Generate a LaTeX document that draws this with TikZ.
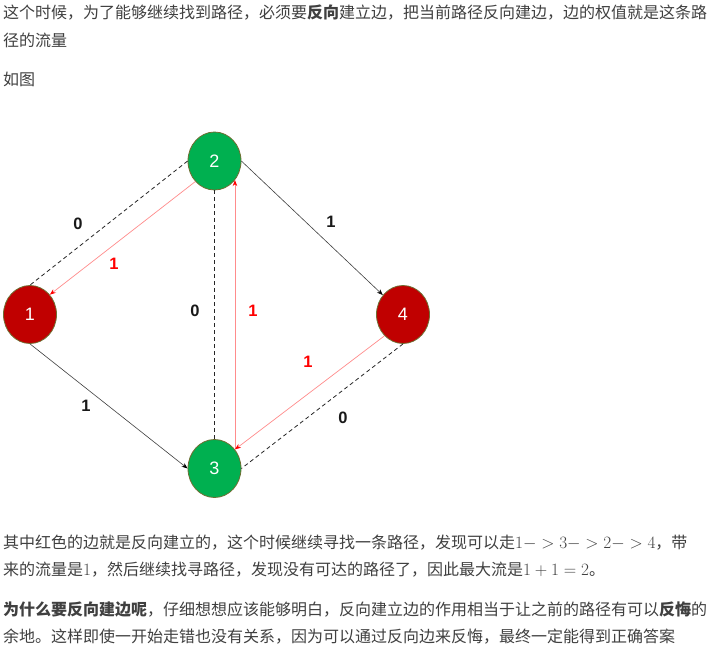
\documentclass[tikz,border=0pt]{standalone}
\usepackage[no-math]{fontspec}
\setmainfont{Noto Sans CJK SC}
\newfontfamily\labfont{Liberation Sans}
\usetikzlibrary{shapes.geometric,arrows.meta}
\definecolor{txt}{HTML}{404040}
\definecolor{gfill}{RGB}{0,176,80}
\definecolor{rfill}{RGB}{192,0,0}
\definecolor{nborder}{RGB}{110,110,50}
\definecolor{lightred}{RGB}{255,140,140}
\newcommand{\mfont}{\fontsize{18.6}{19}\selectfont}
\tikzset{
  vert/.style={ellipse, draw=nborder, line width=0.8pt, minimum width=53pt, minimum height=58pt, inner sep=0pt, font=\labfont\fontsize{18}{18}\selectfont, text=white},
  gv/.style={vert, fill=gfill},
  rv/.style={vert, fill=rfill},
  flow/.style={draw=black!75, line width=0.6pt, -{Stealth[length=6pt,width=4.5pt,color=black]}},
  back/.style={draw=lightred, line width=0.7pt, -{Stealth[length=6pt,width=4.5pt,color=red]}},
  resid/.style={draw=black!85, line width=0.8pt, dash pattern=on 4pt off 3pt},
  wlab/.style={font=\labfont\bfseries\fontsize{16.5}{17}\selectfont, text=black!90, inner sep=0pt},
  rlab/.style={wlab, text=red},
  para/.style={anchor=base west, inner sep=0pt, text=txt, font=\fontsize{16}{16}\selectfont}
}
\begin{document}
\begin{tikzpicture}[x=1pt,y=-1pt]
\useasboundingbox[fill=white] (0,0) rectangle (712,654);
% text
\node[para] (t1) at (3,18) {这个时候，为了能够继续找到路径，必须要\textbf{反向}建立边，把当前路径反向建边，边的权值就是这条路};
\node[para] (t2) at (3,46) {径的流量};
\node[para] (t3) at (3,85) {如图};
\node[para] (b1) at (3,548) {其中红色的边就是反向建立的，这个时候继续寻找一条路径，发现可以走{\mfont$1->3->2->4$}，带};
\node[para] (b2) at (3,575) {来的流量是{\mfont$1$}，然后继续找寻路径，发现没有可达的路径了，因此最大流是{\mfont$1+1=2$}。};
\node[para] (b3) at (3,615) {\textbf{为什么要反向建边呢}，仔细想想应该能够明白，反向建立边的作用相当于让之前的路径有可以\textbf{反悔}的};
\node[para] (b4) at (3,642) {余地。这样即使一开始走错也没有关系，因为可以通过反向边来反悔，最终一定能得到正确答案};
% graph nodes
\node[gv] (n2) at (214.5,161) {2};
\node[rv] (n1) at (30,314.5) {1};
\node[rv] (n4) at (403,314.5) {4};
\node[gv] (n3) at (214.5,468.5) {3};
% edges
\draw[resid] (n2.west) -- (n1.north);
\draw[back] (n2.227) -- (n1.45);
\draw[resid] (n2.south) -- (n3.north);
\draw[back] (n3.43.5) -- (n2.-43.5);
\draw[flow] (n2.east) -- (n4.136);
\draw[back] (n4.229) -- (n3.43.5);
\draw[resid] (n4.south) -- (n3.east);
\draw[flow] (n1.south) -- (n3.west);
% labels
\node[wlab] (l1) at (78,224) {0};
\node[rlab] (l2) at (114,264) {1};
\node[wlab] (l3) at (195,311) {0};
\node[rlab] (l4) at (253,311) {1};
\node[wlab] (l5) at (331,222) {1};
\node[rlab] (l6) at (308,362) {1};
\node[wlab] (l7) at (343,418) {0};
\node[wlab] (l8) at (86,406) {1};
\end{tikzpicture}
\end{document}
